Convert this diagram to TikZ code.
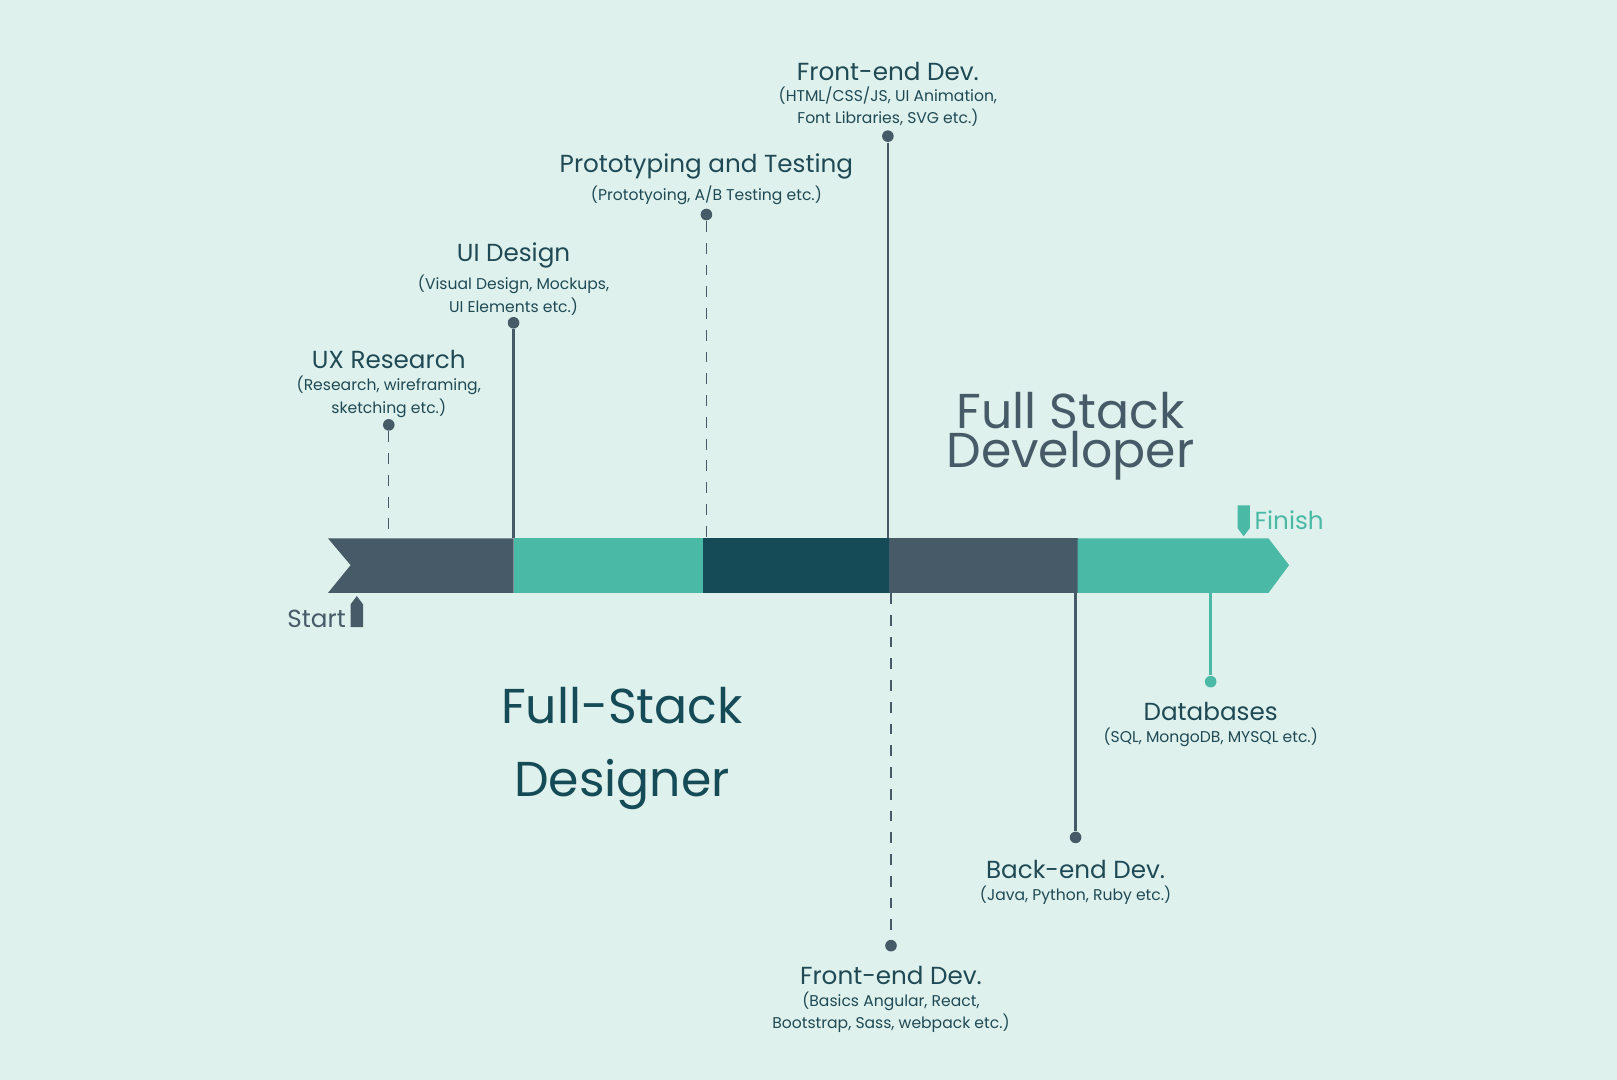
\documentclass[tikz,border=0pt]{standalone}
\usepackage{fontspec}
\setmainfont{Poppins}
\usetikzlibrary{positioning}
\definecolor{bgmint}{HTML}{DFF1EC}
\definecolor{slate}{HTML}{475A68}
\definecolor{teal}{HTML}{4AB9A5}
\definecolor{deepteal}{HTML}{154A57}
\definecolor{inkblue}{HTML}{1F4A55}

\begin{document}
\begin{tikzpicture}[
    x=0.01cm, y=-0.01cm,
    head/.style={font=\fontsize{6.8}{8}\selectfont, text=inkblue, inner sep=0pt},
    sub/.style={font=\fontsize{4.3}{4.6}\selectfont, text=inkblue, align=center, inner sep=0pt},
    big/.style={font=\fontsize{13.5}{13}\selectfont, text=slate, align=center},
    stem/.style={draw=slate, line width=0.7pt},
    dotted stem/.style={draw=slate, dashed, line width=0.3pt},
    tipdot/.style={circle, fill=slate, inner sep=0pt, minimum size=3.2pt}
]
\fill[bgmint] (0,0) rectangle (1568,1047);
\useasboundingbox (0,0) rectangle (1568,1047);

% bar segments
\fill[slate] (318,522) -- (498,522) -- (498,575) -- (318,575) -- (340,548) -- cycle;
\fill[teal] (498,522) rectangle (682,575);
\fill[deepteal] (682,522) rectangle (862,575);
\fill[slate] (862,522) rectangle (1045,575);
\fill[teal] (1045,522) -- (1230,522) -- (1250,548) -- (1230,575) -- (1045,575) -- cycle;

% anchor points on the bar
\coordinate (ux_base) at (377,522);
\coordinate (ui_base) at (498,522);
\coordinate (proto_base) at (685,522);
\coordinate (front_base) at (861,522);
\coordinate (frontb_base) at (864,575);
\coordinate (back_base) at (1043,575);
\coordinate (db_base) at (1174,575);

% upper milestones
\node[tipdot] (ux_dot) at (377,412) {};
\draw[dotted stem] (ux_dot) -- (ux_base);
\node[head] (ux_title) at (377,349) {UX Research};
\node[sub, below=1.5pt of ux_title] {(Research, wireframing,\\sketching etc.)};

\node[tipdot] (ui_dot) at (498,313) {};
\draw[stem] (ui_dot) -- (ui_base);
\node[head] (ui_title) at (498,248) {UI Design};
\node[sub, below=1.5pt of ui_title] {(Visual Design, Mockups,\\UI Elements etc.)};

\node[tipdot] (proto_dot) at (685,208) {};
\draw[dotted stem] (proto_dot) -- (proto_base);
\node[head] (proto_title) at (685,161) {Prototyping and Testing};
\node[sub, below=1.5pt of proto_title] {(Prototyoing, A/B Testing etc.)};

\node[tipdot] (front_dot) at (861,132) {};
\draw[stem] (front_dot) -- (front_base);
\node[head] (front_title) at (861,69) {Front-end Dev.};
\node[sub, below=1.5pt of front_title] {(HTML/CSS/JS, UI Animation,\\Font Libraries, SVG etc.)};

% lower milestones
\node[tipdot] (frontb_dot) at (864,917) {};
\draw[dotted stem] (frontb_base) -- (frontb_dot);
\node[head] (frontb_title) at (864,946) {Front-end Dev.};
\node[sub, below=1.5pt of frontb_title] {(Basics Angular, React,\\Bootstrap, Sass, webpack etc.)};

\node[tipdot] (back_dot) at (1043,812) {};
\draw[stem] (back_base) -- (back_dot);
\node[head] (back_title) at (1043,843) {Back-end Dev.};
\node[sub, below=1.5pt of back_title] {(Java, Python, Ruby etc.)};

\node[tipdot, fill=teal] (db_dot) at (1174,661) {};
\draw[stem, draw=teal] (db_base) -- (db_dot);
\node[head] (db_title) at (1174,690) {Databases};
\node[sub, below=1.5pt of db_title] {(SQL, MongoDB, MYSQL etc.)};

% start / finish flags
\fill[slate] (340,608) -- (340,586) -- (346,578) -- (352,586) -- (352,608) -- cycle;
\node[head, text=slate, anchor=east] (start_label) at (336,600) {Start};
\fill[teal] (1200,490) -- (1212,490) -- (1212,512) -- (1206,520) -- (1200,512) -- cycle;
\node[head, text=teal, anchor=west] (finish_label) at (1216,504) {Finish};

% big titles
\node[big] (dev_title) at (1038,423) {Full Stack\\[-2pt]Developer};
\node[big, text=deepteal] (des_title) at (603,726) {Full-Stack\\[7pt]Designer};
\end{tikzpicture}
\end{document}
